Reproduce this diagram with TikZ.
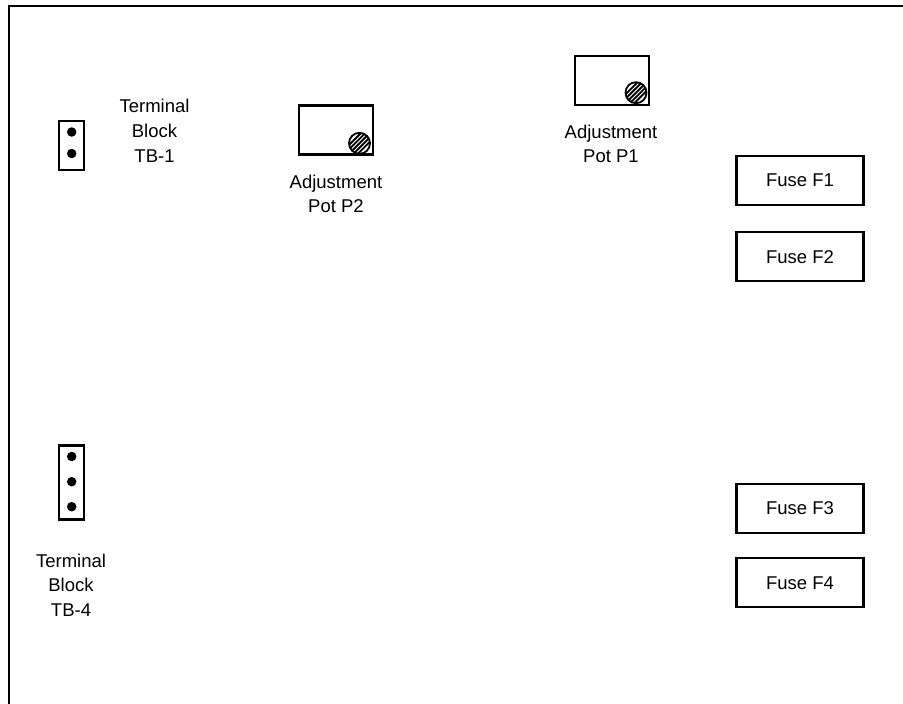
\documentclass[tikz,border=0pt]{standalone}
\usepackage{fontspec}
\setmainfont{Liberation Sans}
\usetikzlibrary{calc}
\begin{document}
\begin{tikzpicture}[x=1pt,y=-1pt,
  txt/.style={align=center,inner sep=0pt,anchor=north,font=\fontsize{18.5}{24.8}\selectfont},
  boxline/.style={draw,line width=2.1pt},
  fusebox/.style={boxline,minimum width=127pt,minimum height=49pt,inner sep=0pt,font=\fontsize{18.5}{24.8}\selectfont},
  potbox/.style={boxline,minimum width=74pt,minimum height=49pt,inner sep=0pt},
  tbbox/.style={boxline,minimum width=25pt,inner sep=0pt},
  tdot/.style={circle,fill=black,minimum size=9.5pt,inner sep=0pt},
  screw/.style={circle,draw,line width=1.8pt,minimum size=21pt,inner sep=0pt,fill=white,
    path picture={\foreach \k in {-2,...,2}
      \draw[line width=1.9pt] ($(path picture bounding box.center)+(\k*2.2,\k*2.2)+(-16,16)$) -- ++(32,-32);}}
]
\useasboundingbox (0,0) rectangle (903,704);
% outer frame (only left and top visible)
\draw[line width=2.8pt] (9,720) -- (9,6) -- (920,6);

% Terminal block TB-1
\node[tbbox,minimum height=49pt] (tb1) at (71.7,145.3) {};
\node[tdot] (tb1a) at (71.7,132) {};
\node[tdot] (tb1b) at (71.7,153.5) {};
\node[txt] (tb1t) at (154.5,99) {Terminal\\Block\\TB-1};

% Terminal block TB-4
\node[tbbox,minimum height=74pt] (tb4) at (71.7,482.5) {};
\node[tdot] (tb4a) at (71.7,456.5) {};
\node[tdot] (tb4b) at (71.7,481.7) {};
\node[tdot] (tb4c) at (71.7,506.7) {};
\node[txt] (tb4t) at (71,553.5) {Terminal\\Block\\TB-4};

% Adjustment pot P2
\node[potbox] (p2) at (335.8,130) {};
\node[screw] (p2s) at (359.5,143.3) {};
\node[txt] (p2t) at (336,174.5) {Adjustment\\Pot P2};

% Adjustment pot P1
\node[potbox] (p1) at (611.7,80.3) {};
\node[screw] (p1s) at (636,92.7) {};
\node[txt] (p1t) at (611,124.5) {Adjustment\\Pot P1};

% Fuses
\node[fusebox] (f1) at (800,180.3) {Fuse F1};
\node[fusebox] (f2) at (800,256.7) {Fuse F2};
\node[fusebox] (f3) at (800,508.3) {Fuse F3};
\node[fusebox] (f4) at (800,582.8) {Fuse F4};
\end{tikzpicture}
\end{document}
